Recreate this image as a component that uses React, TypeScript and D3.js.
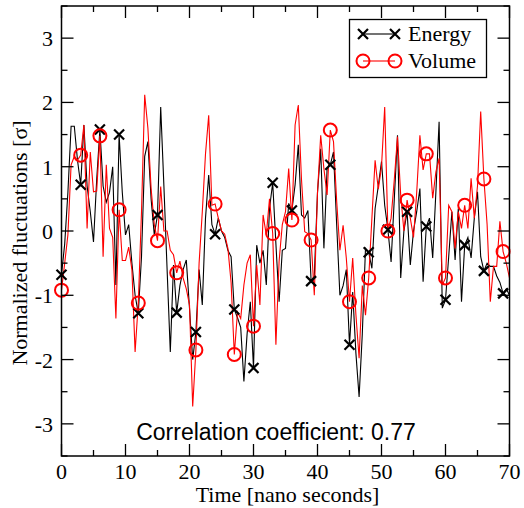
import * as d3 from "d3";
import { useEffect, useRef } from "react";

// sampled every 0.5 ns from 0 to 70
const times = d3.range(0, 70.5, 0.5);

const energy = [
  -0.68, -0.2, 0.6, 1.63, 1.63, 1.1, 0.72, 1.65, 0.7, 0.3, -0.17, 0.8, 1.58, 0.7, 0.45, 0.6, 1.0, -0.84,
  1.5, 0.6, -0.06, 0.1, -0.5, -1.0, -1.28, -0.4, 1.16, 1.39, 0.5, -0.06, 0.25, 1.93, 0.7, -0.6, -1.88,
  -0.53, -1.27, -0.85, -0.6, -0.45, -1.2, -2.0, -1.57, -0.6, -1.15, 0.2, 0.87, 0.1, -0.05, 0.2, 0.0, -0.1,
  -0.3, -0.4, -1.22, -1.35, -1.5, -2.34, -1.6, -1.1, -2.13, -0.22, -0.5, -0.3, -0.84, 0.35, 0.75, -0.2,
  -1.1, -0.3, -0.27, 0.43, 0.32, 0.72, 1.34, 0.25, 0.2, 0.32, -0.78, -0.7, 0.6, 1.28, -0.27, 0.97, 1.03,
  1.23, 0.09, -1.0, -0.85, -0.6, -1.77, -0.95, -1.9, -2.58, -1.6, -0.27, -0.33, -0.58, 0.35, 0.7, 1.08,
  0.4, 0.02, -0.48, 0.5, 1.49, -0.73, 0.0, 0.3, -0.53, 0.0, 0.3, 0.66, -0.79, 0.07, 0.2, -0.42, 0.61, 1.7,
  -1.2, -1.07, -0.4, 0.3, -0.45, 0.35, -1.1, -0.22, -0.1, -0.42, 0.2, 0.61, -0.4, -0.62, -0.5, -0.55,
  -0.55, -0.7, -0.8, -0.97, -0.9, -1.0,
];

const volume = [
  -0.92, -0.5, -0.06, 1.03, 1.16, 1.1, 1.18, 1.65, 0.04, 1.23, 0.61, 0.62, 1.48, -0.4, 1.03, 0.04, -0.1,
  -1.36, 0.33, -0.46, -0.46, -0.25, -0.6, -1.88, -1.12, 0.3, 2.12, 1.6, 0.66, 0.1, -0.15, 0.69, 0.0, 0.0,
  -0.3, -0.37, -0.65, -0.47, -0.73, -0.9, -1.15, -2.73, -1.85, -0.5, 0.3, 1.2, 1.8, 0.4, 0.42, 0.2, 0.0,
  -0.05, -0.27, -0.8, -1.92, -1.26, -1.36, -0.84, -0.5, -0.37, -1.48, -0.53, -1.15, 0.25, -0.06, 0.5,
  -0.04, -1.77, -0.47, 0.1, 0.3, 0.97, 0.17, 1.65, 1.96, 0.8, -0.01, -0.04, -0.14, -1.0, 0.6, 1.49, 0.97,
  0.56, 1.57, 1.39, 0.46, -0.3, 0.09, -0.42, -1.1, -0.42, -1.3, -1.98, -0.85, -1.31, -0.73, 0.2, 1.1,
  0.65, 1.0, 1.93, 0.0, 0.2, 0.8, 1.47, 0.56, 0.0, 0.48, 0.2, -0.1, 0.6, 1.49, 0.95, 1.2, 1.2, 0.51, 0.92,
  1.13, -0.84, -0.73, 0.4, 0.3, -0.27, 0.3, 0.04, 0.4, 0.04, 0.82, 0.2, 0.7, 1.86, 0.81, 0.1, -1.1, -0.55,
  -0.55, 0.15, -0.32, -0.5, -0.73,
];

const xTicks = [0, 10, 20, 30, 40, 50, 60, 70];
const yTicks = [-3, -2, -1, 0, 1, 2, 3];
const seriesNames = ["Energy", "Volume"];
const annotation = "Correlation coefficient: 0.77";

const W = 524;
const H = 508;

export default function App() {
  const svgRef = useRef<SVGSVGElement>(null);

  useEffect(() => {
    const svg = d3.select(svgRef.current);
    svg.selectAll("*").remove();

    const m = { left: 61.5, right: 509.5, top: 6, bottom: 456 };
    const x = d3.scaleLinear().domain([0, 70]).range([m.left, m.right]);
    const y = d3.scaleLinear().domain([-3.5, 3.5]).range([m.bottom, m.top]);

    const energyPts = times.map((t, i) => ({ t, v: energy[i] }));
    const volumePts = times.map((t, i) => ({ t, v: volume[i] }));
    // symbols every 3 ns
    const marked = (pts) => pts.filter((d) => Math.abs(d.t % 3) < 1e-9);

    const line = d3
      .line<{ t: number; v: number }>()
      .x((d) => x(d.t))
      .y((d) => y(d.v));

    const plot = svg.append("g");

    plot
      .append("path")
      .attr("d", line(energyPts))
      .attr("fill", "none")
      .attr("stroke", "#000")
      .attr("stroke-width", 1.1);

    plot
      .append("path")
      .attr("d", line(volumePts))
      .attr("fill", "none")
      .attr("stroke", "#ff0000")
      .attr("stroke-width", 1.1);

    const cross = (g, cx, cy, s) => {
      g.append("path")
        .attr("d", `M${cx - s},${cy - s}L${cx + s},${cy + s}M${cx - s},${cy + s}L${cx + s},${cy - s}`)
        .attr("stroke", "#000")
        .attr("stroke-width", 2.2)
        .attr("fill", "none");
    };

    marked(energyPts).forEach((d) => cross(plot, x(d.t), y(d.v), 5));

    plot
      .selectAll(".vol")
      .data(marked(volumePts))
      .enter()
      .append("circle")
      .attr("cx", (d) => x(d.t))
      .attr("cy", (d) => y(d.v))
      .attr("r", 6.5)
      .attr("fill", "none")
      .attr("stroke", "#ff0000")
      .attr("stroke-width", 2);

    // frame
    svg
      .append("rect")
      .attr("x", m.left)
      .attr("y", m.top)
      .attr("width", m.right - m.left)
      .attr("height", m.bottom - m.top)
      .attr("fill", "none")
      .attr("stroke", "#000")
      .attr("stroke-width", 1.5);

    // ticks on all four sides, pointing in
    const ticks = svg.append("g").attr("stroke", "#000").attr("stroke-width", 1.3);
    d3.range(0, 70.1, 5).forEach((t) => {
      const len = t % 10 === 0 ? 12 : 6;
      ticks.append("line").attr("x1", x(t)).attr("x2", x(t)).attr("y1", m.bottom).attr("y2", m.bottom - len);
      ticks.append("line").attr("x1", x(t)).attr("x2", x(t)).attr("y1", m.top).attr("y2", m.top + len);
    });
    d3.range(-3.5, 3.51, 0.5).forEach((v) => {
      const len = Math.abs(v % 1) < 1e-9 ? 12 : 6;
      ticks.append("line").attr("y1", y(v)).attr("y2", y(v)).attr("x1", m.left).attr("x2", m.left + len);
      ticks.append("line").attr("y1", y(v)).attr("y2", y(v)).attr("x1", m.right).attr("x2", m.right - len);
    });

    const serif = "'Liberation Serif', 'DejaVu Serif', serif";

    svg
      .selectAll(".xl")
      .data(xTicks)
      .enter()
      .append("text")
      .attr("x", (d) => x(d))
      .attr("y", 479)
      .attr("text-anchor", "middle")
      .attr("font-family", serif)
      .attr("font-size", 22)
      .text((d) => d);

    svg
      .selectAll(".yl")
      .data(yTicks)
      .enter()
      .append("text")
      .attr("x", 53)
      .attr("y", (d) => y(d) + 8)
      .attr("text-anchor", "end")
      .attr("font-family", serif)
      .attr("font-size", 22)
      .text((d) => (d < 0 ? `-${-d}` : d));

    svg
      .append("text")
      .attr("x", (m.left + m.right) / 2 + 2)
      .attr("y", 502)
      .attr("text-anchor", "middle")
      .attr("font-family", serif)
      .attr("font-size", 22)
      .text("Time [nano seconds]");

    svg
      .append("text")
      .attr("transform", `translate(27, ${(m.top + m.bottom) / 2 + 12}) rotate(-90)`)
      .attr("text-anchor", "middle")
      .attr("font-family", serif)
      .attr("font-size", 22)
      .text("Normalized fluctuations [σ]");

    svg
      .append("text")
      .attr("x", 276)
      .attr("y", 440)
      .attr("text-anchor", "middle")
      .attr("font-family", "'Liberation Sans', Arial, sans-serif")
      .attr("font-size", 23)
      .text(annotation);

    // legend
    const lg = svg.append("g");
    lg.append("rect")
      .attr("x", 349.5)
      .attr("y", 19.5)
      .attr("width", 137)
      .attr("height", 58)
      .attr("fill", "#fff")
      .attr("stroke", "#000")
      .attr("stroke-width", 1.3);
    seriesNames.forEach((name, i) => {
      const ly = 34 + i * 27;
      const color = i === 0 ? "#000" : "#ff0000";
      lg.append("line")
        .attr("x1", 363)
        .attr("x2", 395)
        .attr("y1", ly)
        .attr("y2", ly)
        .attr("stroke", color)
        .attr("stroke-width", 1.1);
      [363, 395].forEach((cx) => {
        if (i === 0) cross(lg, cx, ly, 5);
        else
          lg.append("circle")
            .attr("cx", cx)
            .attr("cy", ly)
            .attr("r", 6.5)
            .attr("fill", "none")
            .attr("stroke", color)
            .attr("stroke-width", 2);
      });
      lg.append("text")
        .attr("x", 408)
        .attr("y", ly + 7)
        .attr("font-family", serif)
        .attr("font-size", 22)
        .text(name);
    });
  }, []);

  return <svg ref={svgRef} width={W} height={H} style={{ position: "absolute", left: 0, top: 0 }} />;
}
